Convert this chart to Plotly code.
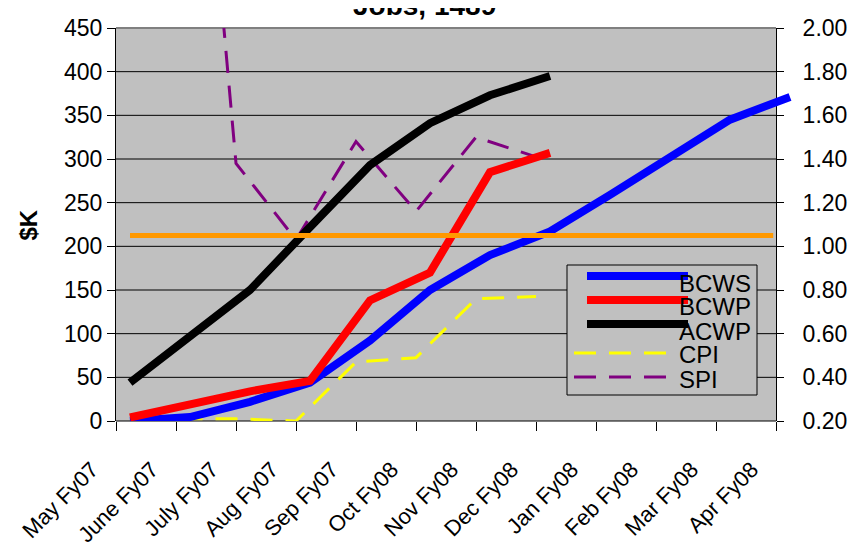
import plotly.graph_objects as go

# ---------------- data ----------------
MONTHS = ["May Fy07", "June Fy07", "July Fy07", "Aug Fy07", "Sep Fy07", "Oct Fy08",
          "Nov Fy08", "Dec Fy08", "Jan Fy08", "Feb Fy08", "Mar Fy08", "Apr Fy08"]
BCWS = [0, 4.5, 22, 44, 92, 150, 190, 217, 259, 302, 345, 371]
BCWP = [4, 20, 34, 46, 138, 170, 285, 307]
ACWP = [44, 97, 150, 222, 293, 341, 373, 395]
CPI = [0.09, 0.21, 0.21, 0.20, 0.47, 0.49, 0.76, 0.77]
SPI = [None, 4.45, 1.38, 1.03, 1.48, 1.16, 1.50, 1.41]
REF_LEVEL = 1.05          # orange reference line (right axis)

LEFT_TICKS = list(range(0, 451, 50))
RIGHT_TICKS = [round(0.2 * k, 1) for k in range(1, 11)]

# ---------------- layout geometry (page pixels) ----------------
W, H = 868, 554
OFF = 8                                  # page body margin
PLOT_L, PLOT_R, PLOT_T, PLOT_B = 116, 796, 28, 421
PW, PH = PLOT_R - PLOT_L, PLOT_B - PLOT_T
CAT_PX = 60.0                            # px per category
N_CAT = len(MONTHS)
X_RANGE = [0, PW / CAT_PX]               # category axis (ticks / right-axis series)
X_SHIFT = 14 / CAT_PX                    # left-axis series drawn offset from ticks
X2_RANGE = [X_RANGE[0] - X_SHIFT, X_RANGE[1] - X_SHIFT]
AXIS_RIGHT = N_CAT - 1                   # right value axis sits on last tick


def px(x):
    return (x - PLOT_L) / PW


def py(y):
    return (PLOT_B - y) / PH


FONT = "Liberation Sans, Arial, sans-serif"
GRAY = "#C0C0C0"
DASH = "22px,13px"

SERIES = [
    # name, values, color, width, dash, axis pair
    ("BCWS", BCWS, "#0000FF", 8, None, ("x2", "y")),
    ("BCWP", BCWP, "#FF0000", 8, None, ("x2", "y")),
    ("ACWP", ACWP, "#000000", 8, None, ("x2", "y")),
    ("CPI", CPI, "#FFFF00", 3, DASH, ("x", "y2")),
    ("SPI", SPI, "#800080", 3, DASH, ("x", "y2")),
]

fig = go.Figure()
idx = list(range(N_CAT))
for name, vals, color, width, dash, (xa, ya) in SERIES:
    fig.add_trace(go.Scatter(x=idx[:len(vals)], y=vals, name=name, mode="lines",
                             line=dict(color=color, width=width, dash=dash),
                             xaxis=xa, yaxis=ya, showlegend=False))

shapes = [
    dict(type="rect", xref="x", yref="paper", x0=0, x1=AXIS_RIGHT, y0=0, y1=1,
         fillcolor=GRAY, line=dict(width=0), layer="below"),
]
for v in LEFT_TICKS[1:-1]:
    shapes.append(dict(type="line", xref="x", yref="y", x0=0, x1=AXIS_RIGHT, y0=v, y1=v,
                       line=dict(color="black", width=1), layer="below"))
shapes.append(dict(type="line", xref="x", yref="paper", x0=0, x1=AXIS_RIGHT, y0=1, y1=1,
                   line=dict(color="#808080", width=2), layer="below"))
shapes.append(dict(type="line", xref="x", yref="paper", x0=0, x1=AXIS_RIGHT, y0=0, y1=0,
                   line=dict(color="black", width=1), layer="below"))
# orange reference level
shapes.append(dict(type="line", xref="x2", yref="y2", x0=0, x1=AXIS_RIGHT - 0.28,
                   y0=REF_LEVEL, y1=REF_LEVEL,
                   line=dict(color="#FF9900", width=5), layer="above"))

# ---------------- legend (drawn manually, Excel style) ----------------
LEG_BOX = (567, 265, 757, 395)
LEG_ROWS = [  # sample y, text y
    (276, 283), (300, 306), (324, 331), (353, 354), (377, 379)]
shapes.append(dict(type="rect", xref="paper", yref="paper",
                   x0=px(LEG_BOX[0]), x1=px(LEG_BOX[2]), y0=py(LEG_BOX[3]), y1=py(LEG_BOX[1]),
                   fillcolor=GRAY, line=dict(color="black", width=1), layer="above"))
annotations = []
for (name, vals, color, width, dash, _), (sy, ty) in zip(SERIES, LEG_ROWS):
    if dash:
        x0, x1 = 574, 667
    else:
        x0, x1 = 587, 688
    shapes.append(dict(type="line", xref="paper", yref="paper",
                       x0=px(x0), x1=px(x1), y0=py(sy), y1=py(sy),
                       line=dict(color=color, width=width, dash=dash or "solid"),
                       layer="above"))
    annotations.append(dict(text=name, xref="paper", yref="paper",
                            x=px(677), y=py(ty), xanchor="left", yanchor="middle",
                            showarrow=False, font=dict(family=FONT, size=24, color="black")))

annotations += [
    dict(text="Jobs, 1489", xref="paper", yref="paper",
         x=px(424.5), y=py(5), xanchor="center", yanchor="middle", showarrow=False,
         font=dict(family=FONT, size=28, weight="bold")),
    dict(text="$K", xref="paper", yref="paper",
         x=px(28), y=0.5, textangle=-90,
         xanchor="center", yanchor="middle", showarrow=False,
         font=dict(family=FONT, size=24, weight="bold")),
]

fig.update_layout(
    width=W, height=H,
    margin=dict(l=PLOT_L - OFF, r=W - (PLOT_R - OFF), t=PLOT_T - OFF, b=H - (PLOT_B - OFF),
                autoexpand=False),
    paper_bgcolor="white", plot_bgcolor="rgba(0,0,0,0)",
    font=dict(family=FONT, size=23, color="black"),
    showlegend=False,
    xaxis=dict(domain=[0, 1], range=X_RANGE, anchor="y",
               tickmode="array", tickvals=idx, ticktext=MONTHS, tickangle=-45,
               ticks="outside", ticklen=9, tickcolor="black",
               ticklabelshift=-24, ticklabelstandoff=17,
               showline=False, showgrid=False, zeroline=False,
               tickfont=dict(family=FONT, size=22)),
    xaxis2=dict(range=X2_RANGE, overlaying="x", visible=False, anchor="y"),
    yaxis=dict(range=[0, 450], tickmode="array", tickvals=LEFT_TICKS,
               ticks="outside", ticklen=8, tickcolor="black",
               showline=True, linecolor="black", linewidth=1,
               showgrid=False, zeroline=False,
               tickfont=dict(family=FONT, size=23)),
    yaxis2=dict(range=[0.2, 2.0], overlaying="y", side="right", anchor="free",
                position=AXIS_RIGHT * CAT_PX / PW,
                tickmode="array", tickvals=RIGHT_TICKS, tickformat=".2f",
                ticks="outside", ticklen=7, tickcolor="black",
                ticklabelstandoff=14,
                showline=True, linecolor="black", linewidth=1,
                showgrid=False, zeroline=False,
                tickfont=dict(family=FONT, size=23)),
    shapes=shapes,
    annotations=annotations,
)

fig.write_html("out.html")
